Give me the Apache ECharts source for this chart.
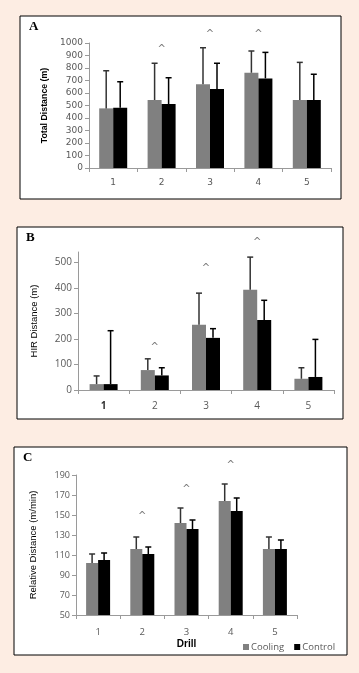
<!DOCTYPE html>
<html><head><meta charset="utf-8">
<script src="https://cdn.jsdelivr.net/npm/echarts@6/dist/echarts.min.js"></script>
<style>html,body{margin:0;padding:0;background:#fdede3;}#c{width:359px;height:673px;}</style>
</head><body><div id="c"></div>
<script>
// ---- data ----
const drills = ['1', '2', '3', '4', '5'];

const totalCooling = [477, 544, 670, 762, 544];
const totalCoolingUpper = [778, 838, 962, 936, 845];
const totalControl = [482, 512, 632, 717, 544];
const totalControlUpper = [690, 722, 838, 925, 750];
const totalCaret = [null, 968, 1088, 1088, null];

const hirCooling = [23, 78, 255, 392, 44];
const hirCoolingUpper = [55, 122, 379, 520, 87];
const hirControl = [23, 57, 204, 274, 51];
const hirControlUpper = [232, 87, 240, 351, 198];
const hirCaret = [null, 176, 483, 585, null];

const relCooling = [102, 116, 142, 164, 116];
const relCoolingUpper = [111, 128, 157, 181, 128];
const relControl = [105, 111, 136, 154, 116];
const relControlUpper = [112, 118, 145, 167, 125];
const relCaret = [null, 151, 178, 202, null];

const totalTicks = [0, 100, 200, 300, 400, 500, 600, 700, 800, 900, 1000];
const hirTicks = [0, 100, 200, 300, 400, 500];
const relTicks = [50, 70, 90, 110, 130, 150, 170, 190];

// ---- chart ----
const GRAY = '#808080', BLACK = '#000000';
const chart = echarts.init(document.getElementById('c'), null, {renderer: 'canvas'});

function bars(gi, name, vals, color, bw) {
  return {type: 'bar', name, xAxisIndex: gi, yAxisIndex: gi, data: vals, barWidth: bw, barGap: '0%',
    itemStyle: {color}, silent: true, z: 2};
}
function errs(gi, vals, uppers, side, bw, color) {
  return {type: 'custom', xAxisIndex: gi, yAxisIndex: gi, z: 3, silent: true,
    data: vals.map((v, i) => [i, uppers[i], v]),
    renderItem: function (params, api) {
      const i = api.value(0);
      const p1 = api.coord([i, api.value(1)]);
      const p0 = api.coord([i, api.value(2)]);
      const x = p1[0] + side * bw / 2;
      return {type: 'group', children: [
        {type: 'line', shape: {x1: x, y1: p0[1], x2: x, y2: p1[1]}, style: {stroke: color, lineWidth: 1.5}},
        {type: 'line', shape: {x1: x - 3, y1: p1[1], x2: x + 3, y2: p1[1]}, style: {stroke: color, lineWidth: 1.5}}
      ]};
    }};
}
function carets(gi, vals) {
  const d = [];
  vals.forEach((v, i) => { if (v !== null) d.push([i, v]); });
  return {type: 'custom', xAxisIndex: gi, yAxisIndex: gi, z: 4, silent: true, clip: false, data: d,
    renderItem: function (params, api) {
      const p = api.coord([api.value(0), api.value(1)]);
      return {type: 'text', x: p[0], y: p[1] + 2,
        style: {text: '^', fill: '#7a7a7a', font: '10px "DejaVu Sans"', align: 'center', verticalAlign: 'middle'}};
    }};
}

const axisLineStyle = {lineStyle: {color: '#9a9a9a', width: 1}};
function xAxis(gi, font, size, margin, extra) {
  return Object.assign({type: 'category', gridIndex: gi, data: drills,
    axisLine: axisLineStyle, axisTick: {show: true, length: 4, lineStyle: {color: '#9a9a9a'}},
    axisLabel: {fontFamily: font, fontSize: size, color: '#595959', margin}}, extra || {});
}
function yAxis(gi, min, max, ticks, font, size, name, nameFont, nameSize, nameWeight, nameGap) {
  return {type: 'value', gridIndex: gi, min, max,
    axisLine: {show: true, lineStyle: {color: '#9a9a9a', width: 1}},
    axisTick: {show: true, length: 4, customValues: ticks, lineStyle: {color: '#9a9a9a'}},
    axisLabel: {customValues: ticks, fontFamily: font, fontSize: size, color: '#595959', margin: 6,
      formatter: v => String(v)},
    splitLine: {show: false},
    name, nameLocation: 'middle', nameGap,
    nameTextStyle: {fontFamily: nameFont, fontSize: nameSize, fontWeight: nameWeight, color: '#000'}};
}

const bwA = 14, bwB = 14, bwC = 12;

const xB = xAxis(1, 'Open Sans', 10, 11);
xB.axisLabel.formatter = (v, i) => i === 0 ? '{b|' + v + '}' : v;
xB.axisLabel.rich = {b: {fontFamily: 'Open Sans', fontSize: 10, fontWeight: 'bold', color: '#333'}};

const option = {
  backgroundColor: '#fdede3',
  animation: false,
  graphic: [
    {type: 'rect', shape: {x: 20, y: 16, width: 321, height: 183}, style: {fill: '#fff', stroke: '#000', lineWidth: 1}, z: -10},
    {type: 'rect', shape: {x: 17, y: 227, width: 326, height: 192}, style: {fill: '#fff', stroke: '#000', lineWidth: 1}, z: -10},
    {type: 'rect', shape: {x: 14, y: 447, width: 333, height: 208}, style: {fill: '#fff', stroke: '#000', lineWidth: 1}, z: -10},
    {type: 'text', x: 29, y: 20, style: {text: 'A', font: 'bold 13px "Liberation Serif"', fill: '#000'}},
    {type: 'text', x: 26, y: 231, style: {text: 'B', font: 'bold 13px "Liberation Serif"', fill: '#000'}},
    {type: 'text', x: 23, y: 451, style: {text: 'C', font: 'bold 13px "Liberation Serif"', fill: '#000'}}
  ],
  grid: [
    {left: 89, top: 43, width: 242, height: 125},
    {left: 78, top: 252, width: 256, height: 138},
    {left: 76, top: 475, width: 221, height: 140}
  ],
  xAxis: [
    xAxis(0, 'DejaVu Sans', 9, 10),
    xB,
    xAxis(2, 'Open Sans', 9.5, 12, {name: 'Drill', nameLocation: 'middle', nameGap: 24,
      nameTextStyle: {fontFamily: 'Liberation Sans', fontSize: 10, fontWeight: 'bold', color: '#000'}})
  ],
  yAxis: [
    yAxis(0, 0, 1000, totalTicks, 'DejaVu Sans', 9, 'Total Distance (m)', 'Liberation Sans', 8.8, 'bold', 40),
    yAxis(1, 0, 540, hirTicks, 'Open Sans', 10, 'HIR Distance (m)', 'Liberation Sans', 9.5, 'normal', 39),
    yAxis(2, 50, 190, relTicks, 'Open Sans', 9, 'Relative Distance (m/min)', 'Liberation Sans', 9.5, 'normal', 38)
  ],
  legend: {data: ['Cooling', 'Control'], left: 243, top: 642, padding: 0, icon: 'rect', itemWidth: 6, itemHeight: 6,
    itemGap: 10, selectedMode: false,
    textStyle: {fontFamily: 'Open Sans', fontSize: 9.5, color: '#595959', padding: [0, 0, 0, -3]}},
  series: [
    bars(0, 'Cooling', totalCooling, GRAY, bwA), bars(0, 'Control', totalControl, BLACK, bwA),
    errs(0, totalCooling, totalCoolingUpper, -1, bwA, '#333'), errs(0, totalControl, totalControlUpper, 1, bwA, '#000'),
    carets(0, totalCaret),
    bars(1, 'Cooling', hirCooling, GRAY, bwB), bars(1, 'Control', hirControl, BLACK, bwB),
    errs(1, hirCooling, hirCoolingUpper, -1, bwB, '#333'), errs(1, hirControl, hirControlUpper, 1, bwB, '#000'),
    carets(1, hirCaret),
    bars(2, 'Cooling', relCooling, GRAY, bwC), bars(2, 'Control', relControl, BLACK, bwC),
    errs(2, relCooling, relCoolingUpper, -1, bwC, '#333'), errs(2, relControl, relControlUpper, 1, bwC, '#000'),
    carets(2, relCaret)
  ]
};
chart.setOption(option);
</script></body></html>
